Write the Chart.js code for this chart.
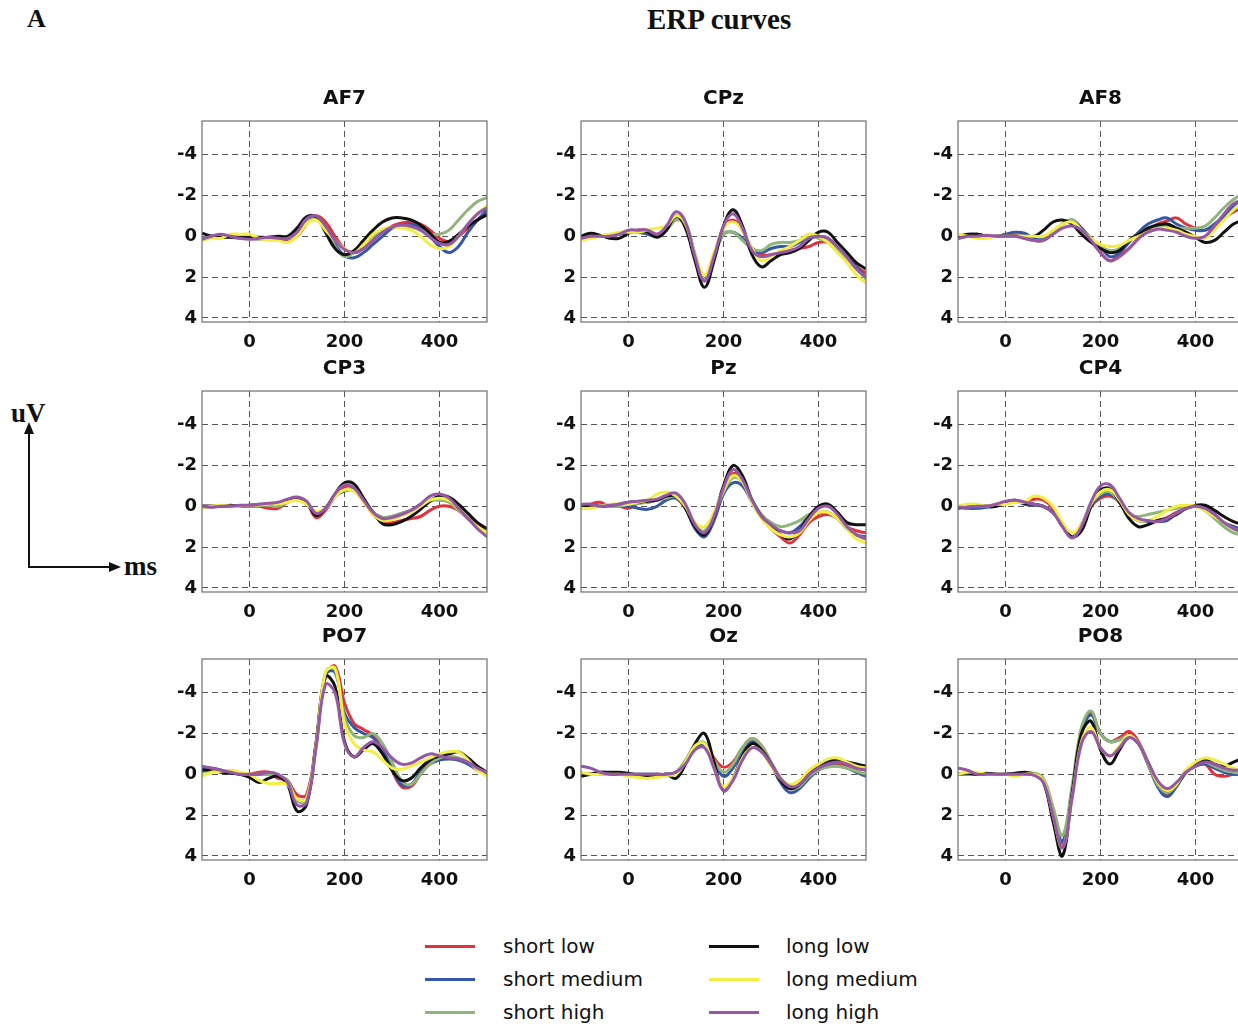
<!DOCTYPE html>
<html>
<head>
<meta charset="utf-8">
<script src="https://cdn.jsdelivr.net/npm/chart.js@4.4.0/dist/chart.umd.min.js"></script>
<style>
  html, body { margin: 0; padding: 0; background: #fff; overflow: hidden; }
  body { width: 1238px; height: 1030px; position: relative; }
  .panel { position: absolute; }
  .serif { position: absolute; font-family: "Liberation Serif", "DejaVu Serif", serif; font-weight: bold; color: #111; white-space: nowrap; }
  .legend { position: absolute; left: 0; top: 0; font-family: "DejaVu Sans", "Liberation Sans", sans-serif; font-size: 20px; color: #111; }
  .legend .swatch { position: absolute; width: 50px; height: 3px; }
  .legend .label { position: absolute; transform: translateY(-50%); white-space: nowrap; }
</style>
</head>
<body>

<div class="serif" style="left:27px; top:4px; font-size:26px;">A</div>
<div class="serif" style="left:647px; top:3px; font-size:29px;">ERP curves</div>

<svg style="position:absolute; left:0; top:0;" width="170" height="620">
  <line x1="29" y1="568" x2="29" y2="432" stroke="#111" stroke-width="2"/>
  <polygon points="29,422 24,434 34,434" fill="#111"/>
  <line x1="28" y1="567" x2="110" y2="567" stroke="#111" stroke-width="2"/>
  <polygon points="121,567 109,562 109,572" fill="#111"/>
</svg>
<div class="serif" style="left:11px; top:398px; font-size:27px;">uV</div>
<div class="serif" style="left:124px; top:551px; font-size:27px;">ms</div>

<div id="panels"></div>
<div class="legend" id="legend"></div>

<script>
// time axis (ms), shared by every panel
const TIMES = [-100, -80, -60, -40, -20, 0, 20, 40, 60, 80, 100, 120, 140, 160, 180, 200,
               220, 240, 260, 280, 300, 320, 340, 360, 380, 400, 420, 440, 460, 480, 500];
const X_TICKS = [0, 200, 400];
const Y_TICKS = [-4, -2, 0, 2, 4];

const SERIES = ['short low', 'short medium', 'short high', 'long low', 'long medium', 'long high'];
const COLORS = ['#e0333d', '#3457a8', '#90b57a', '#111111', '#f2ee44', '#9658a6'];

// each panel: rows in SERIES order (uV, negative up)
const AF7 = [
  [0.1,0,0,0,0.05,0.1,0.1,0.1,0.15,0.2,0,-0.6,-1.0,-0.7,0,0.6,0.8,0.6,0.2,-0.2,-0.5,-0.65,-0.7,-0.6,-0.3,0.1,0.25,0,-0.4,-0.8,-1.2],
  [0.1,0,0,0,0.1,0.1,0.1,0.1,0.1,0.1,-0.2,-0.8,-0.9,-0.4,0.4,0.95,1.05,0.8,0.4,0,-0.4,-0.55,-0.6,-0.4,0,0.5,0.8,0.5,-0.2,-0.8,-1.3],
  [0.1,0.05,0,0.05,0.1,0.1,0.15,0.1,0.1,0.1,-0.1,-0.7,-0.85,-0.4,0.5,1.0,0.8,0.4,0,-0.3,-0.45,-0.5,-0.45,-0.3,-0.1,-0.1,-0.3,-0.8,-1.3,-1.7,-1.9],
  [-0.15,0,0.05,0.05,0.05,0.05,0.05,0.05,0,0,-0.4,-0.95,-0.95,-0.2,0.6,0.9,0.7,0.2,-0.3,-0.7,-0.9,-0.9,-0.8,-0.55,-0.15,0.3,0.25,-0.1,-0.5,-0.8,-1.05],
  [0.2,0.1,0.1,-0.1,-0.1,-0.1,0.1,0.2,0.2,0.3,0,-0.6,-0.8,-0.3,0.2,0.6,0.8,0.4,-0.1,-0.35,-0.45,-0.4,-0.3,0,0.4,0.6,0.5,0,-0.6,-1.1,-1.5],
  [0.15,0,-0.1,0,0.1,0.15,0.1,0.05,0.1,0.1,-0.2,-0.85,-1.0,-0.5,0.2,0.65,0.8,0.6,0.2,-0.2,-0.45,-0.55,-0.5,-0.3,0.05,0.35,0.4,0,-0.6,-1.1,-1.4]
];
const CPZ = [
  [0.1,0,0,0,-0.1,-0.2,-0.3,-0.3,-0.1,-0.4,-0.9,-0.6,1.0,2.1,1.0,-0.4,-0.8,-0.3,0.6,0.9,0.9,0.8,0.7,0.6,0.5,0.3,0.3,0.6,1.0,1.5,1.8],
  [0.1,0,0,0,-0.1,-0.2,-0.2,-0.1,0,-0.4,-0.85,-0.6,0.9,2.1,1.0,-0.1,-0.2,0.1,0.6,0.8,0.6,0.5,0.5,0.3,0.1,0,0.1,0.5,1.0,1.5,2.0],
  [0.1,0,0,0,-0.1,-0.25,-0.3,-0.2,0,-0.3,-0.8,-0.6,0.9,2.1,1.0,-0.1,-0.2,0.2,0.6,0.7,0.4,0.3,0.3,0.2,0,0.1,0.3,0.7,1.1,1.6,2.1],
  [0,-0.15,-0.05,0.1,0.1,-0.15,-0.3,-0.2,0.05,-0.3,-1.0,-0.4,1.2,2.5,1.2,-0.5,-1.3,-0.5,0.9,1.5,1.2,0.9,0.8,0.6,0.2,-0.2,-0.2,0.3,0.8,1.3,1.6],
  [0.2,0.1,0,-0.1,-0.2,-0.2,-0.2,-0.3,-0.4,-0.5,-1.0,-0.6,0.9,1.9,0.8,-0.4,-0.7,-0.3,0.6,1.2,1.0,0.7,0.5,0.2,-0.1,0,0.3,0.8,1.3,1.9,2.3],
  [0.1,0,0,0,-0.1,-0.3,-0.3,-0.3,-0.1,-0.5,-1.2,-0.7,1.0,2.2,1.0,-0.5,-1.1,-0.4,0.7,1.0,0.9,0.8,0.7,0.5,0.1,0,0.1,0.5,1.0,1.6,2.0]
];
const AF8 = [
  [0,0,-0.1,0,0,-0.05,-0.05,0.1,0.2,0.2,-0.2,-0.6,-0.75,-0.4,0.2,0.8,1.2,0.9,0.6,0.1,-0.3,-0.6,-0.75,-0.9,-0.6,-0.4,-0.3,-0.5,-0.9,-1.2,-1.4],
  [0.1,0,-0.1,0,0,-0.1,-0.2,-0.15,0.1,0.1,-0.2,-0.6,-0.8,-0.4,0.1,0.5,1.0,0.8,0.3,-0.2,-0.6,-0.8,-0.9,-0.6,-0.4,-0.3,-0.3,-0.6,-1.0,-1.5,-1.9],
  [0.1,0,0,0,0,0,0,0,0.2,0.2,-0.2,-0.6,-0.8,-0.3,0.1,0.5,0.7,0.6,0.2,-0.1,-0.4,-0.5,-0.5,-0.4,-0.4,-0.4,-0.5,-0.9,-1.4,-1.8,-2.1],
  [0,-0.1,-0.1,0,0,0,0,0,0,-0.3,-0.7,-0.8,-0.6,-0.1,0.3,0.6,0.8,0.7,0.2,-0.1,-0.4,-0.55,-0.6,-0.4,-0.2,0.05,0.3,0.2,-0.2,-0.6,-0.8],
  [-0.1,0,0.1,0.1,0,0,0,0,0,0,-0.3,-0.6,-0.7,-0.3,0.1,0.4,0.5,0.45,0.2,0,-0.2,-0.35,-0.4,-0.3,-0.1,0,0.1,-0.3,-0.8,-1.3,-1.6],
  [0.1,0,0,-0.05,0,0,0,0.1,0.2,0.2,-0.1,-0.4,-0.5,-0.3,0.2,0.8,1.2,1.0,0.6,0.1,-0.2,-0.35,-0.3,-0.2,0,0.1,0,-0.5,-1.1,-1.6,-1.8]
];
const CP3 = [
  [0,0,0,0,0,0,0,0.1,0.1,-0.2,-0.4,-0.2,0.55,0.2,-0.5,-0.95,-0.9,-0.3,0.4,0.75,0.8,0.7,0.6,0.5,0.2,0,0,0.2,0.6,0.9,1.1],
  [0,0,0,0,0,-0.05,-0.1,-0.1,-0.1,-0.25,-0.35,-0.1,0.3,0.1,-0.5,-0.75,-0.8,-0.3,0.3,0.55,0.5,0.35,0.2,-0.1,-0.3,-0.4,-0.3,0.1,0.6,1.0,1.3],
  [0,0,0,0,0,-0.05,-0.05,-0.05,0,-0.2,-0.35,-0.15,0.3,0.1,-0.5,-0.8,-0.75,-0.3,0.3,0.55,0.5,0.35,0.2,0,-0.25,-0.3,-0.2,0.2,0.6,1.0,1.3],
  [0,0,0,-0.05,0,-0.05,-0.05,-0.1,-0.1,-0.3,-0.4,-0.2,0.45,0.1,-0.6,-1.15,-1.1,-0.4,0.3,0.85,0.9,0.75,0.5,0.15,-0.25,-0.5,-0.45,-0.1,0.35,0.8,1.1],
  [0.1,0,-0.05,0,0,-0.05,-0.05,-0.1,-0.1,-0.2,-0.3,-0.1,0.25,0.1,-0.5,-0.8,-0.75,-0.2,0.4,0.7,0.65,0.45,0.3,0,-0.3,-0.4,-0.3,0.1,0.6,1.0,1.3],
  [0,0.05,0,0,-0.05,-0.05,-0.1,-0.15,-0.2,-0.35,-0.45,-0.25,0.35,0.1,-0.6,-1.05,-0.9,-0.3,0.3,0.6,0.55,0.4,0.2,-0.1,-0.5,-0.6,-0.4,0.1,0.6,1.1,1.5]
];
const PZ = [
  [0.1,-0.1,-0.2,0,0,0.1,-0.15,-0.2,-0.3,-0.4,-0.4,0.1,1.0,1.35,0.5,-0.8,-1.6,-1.3,-0.3,0.5,1.1,1.5,1.8,1.4,0.8,0.5,0.4,0.6,1.0,1.2,1.3],
  [0,0,0,0,0,0,0.1,0.15,0,-0.3,-0.4,0.1,1.1,1.5,0.7,-0.6,-1.15,-1.0,-0.2,0.5,1.0,1.2,1.3,1.0,0.5,0.3,0.3,0.6,1.1,1.4,1.5],
  [0,0,0,0,0,-0.1,-0.15,-0.2,-0.3,-0.4,-0.5,0,0.9,1.2,0.4,-0.7,-1.4,-1.2,-0.3,0.4,0.8,1.0,0.9,0.7,0.4,0.3,0.3,0.6,1.0,1.4,1.6],
  [0,-0.05,0,-0.05,-0.1,-0.2,-0.2,-0.25,-0.3,-0.5,-0.5,0.1,1.0,1.4,0.5,-1.0,-2.0,-1.5,-0.3,0.5,1.0,1.4,1.6,1.2,0.5,0,-0.1,0.3,0.8,0.9,0.9],
  [0.1,0.1,0,-0.1,-0.1,-0.1,-0.2,-0.3,-0.6,-0.7,-0.5,0,0.8,1.0,0.3,-0.8,-1.5,-1.2,-0.2,0.6,1.1,1.4,1.5,1.3,0.7,0.3,0.3,0.6,1.1,1.6,1.8],
  [-0.1,-0.1,0,-0.05,-0.1,-0.2,-0.25,-0.3,-0.35,-0.55,-0.65,-0.1,0.9,1.3,0.5,-0.9,-1.8,-1.3,-0.3,0.5,0.9,1.2,1.3,1.2,0.6,0.1,0,0.4,1.0,1.4,1.6]
];
const CP4 = [
  [0.05,0,0,0,-0.1,-0.2,-0.25,-0.2,-0.35,-0.3,0.1,0.9,1.5,0.9,0,-0.4,-0.5,-0.2,0.4,0.7,0.75,0.7,0.55,0.3,0.1,0,0.05,0.4,0.8,1.0,1.2],
  [0.05,0.1,0.1,0.05,0,-0.2,-0.25,-0.1,-0.05,0,0.3,1.0,1.5,0.9,0,-0.5,-0.6,-0.2,0.4,0.7,0.75,0.75,0.7,0.35,0.1,0,0.1,0.4,0.8,1.0,1.2],
  [0,0,0,0,-0.05,-0.2,-0.3,-0.2,-0.1,0,0.3,1.0,1.5,0.9,-0.1,-0.6,-0.7,-0.2,0.4,0.5,0.4,0.3,0.2,0.1,0,0,0.2,0.6,1.0,1.3,1.4],
  [0.1,0,-0.05,0,0,-0.2,-0.3,-0.15,-0.1,0,0.3,0.9,1.5,1.2,0,-0.8,-0.85,-0.2,0.6,1.0,0.9,0.7,0.6,0.4,0.1,-0.05,-0.05,0.2,0.5,0.75,0.9],
  [0,-0.1,-0.1,0,-0.1,-0.1,-0.2,-0.2,-0.5,-0.4,0,0.8,1.3,0.9,-0.1,-0.7,-0.8,-0.3,0.4,0.7,0.7,0.5,0.2,0,-0.05,0,0.2,0.5,0.8,1.1,1.3],
  [0.05,0.05,0,0,-0.1,-0.25,-0.3,-0.2,-0.1,0,0.3,1.0,1.55,1.0,-0.2,-1.0,-1.05,-0.4,0.3,0.6,0.7,0.75,0.6,0.35,0.1,0,0.1,0.4,0.8,1.1,1.3]
];
const PO7 = [
  [-0.2,-0.3,-0.2,-0.1,0,0,-0.1,-0.1,0.2,0.3,1.0,1.0,-1.5,-4.8,-5.3,-3.5,-2.5,-2.2,-1.9,-1.2,-0.2,0.6,0.6,0,-0.6,-0.8,-0.8,-0.7,-0.6,-0.3,-0.1],
  [-0.3,-0.3,-0.2,-0.1,0,0.05,0,0,0.1,0.3,1.2,1.2,-1.4,-4.9,-5.0,-3.0,-2.3,-2.0,-1.8,-1.2,-0.3,0.5,0.5,-0.1,-0.5,-0.7,-0.75,-0.7,-0.5,-0.2,0],
  [-0.1,-0.2,-0.2,-0.1,0,0,0,0,0.1,0.3,1.3,1.3,-1.4,-5.0,-5.2,-2.8,-1.9,-1.8,-2.0,-1.5,-0.6,0.3,0.5,0,-0.5,-0.8,-0.9,-0.8,-0.6,-0.3,-0.1],
  [-0.2,-0.2,-0.1,-0.05,0,0.15,0.4,0.2,0.1,0.5,1.8,1.5,-1.5,-4.8,-4.3,-1.6,-0.85,-1.2,-1.5,-1.0,-0.2,0.3,0.2,-0.3,-0.7,-0.9,-1.0,-1.1,-0.8,-0.4,-0.1],
  [0.1,-0.1,-0.15,-0.2,-0.1,0,0.3,0.45,0.45,0.5,1.2,1.2,-1.4,-5.0,-5.2,-2.5,-1.5,-1.2,-1.1,-0.7,-0.3,-0.25,-0.4,-0.6,-0.8,-1.0,-1.1,-1.1,-0.7,-0.2,0.1],
  [-0.4,-0.3,-0.2,-0.1,0,0,0,-0.1,0,0.4,1.5,1.4,-1.3,-4.4,-4.0,-1.5,-0.85,-1.3,-1.6,-1.3,-0.8,-0.5,-0.55,-0.8,-1.0,-0.9,-0.8,-0.75,-0.6,-0.3,-0.1]
];
const OZ = [
  [0,0,0,0,0,0,0.05,0.05,0,0,-0.1,-0.6,-1.4,-1.5,-0.8,-0.35,-0.6,-1.3,-1.75,-1.4,-0.6,0.2,0.7,0.5,0,-0.3,-0.45,-0.5,-0.4,-0.3,-0.2],
  [0,0,0,0,0,0,0,0,0,0,-0.1,-0.6,-1.3,-1.4,-0.6,0.1,-0.3,-1.1,-1.6,-1.3,-0.5,0.4,0.9,0.7,0.2,-0.2,-0.4,-0.4,-0.3,-0.1,0.1],
  [0,0,0,0,0,0,0,0,0,0,-0.1,-0.7,-1.4,-1.55,-0.7,-0.1,-0.5,-1.3,-1.75,-1.4,-0.6,0.2,0.7,0.6,0.1,-0.2,-0.35,-0.4,-0.3,-0.15,0],
  [0.1,0,-0.1,-0.1,-0.1,-0.05,0.05,0.1,0.05,0,0.2,-0.5,-1.5,-2.0,-0.6,0.8,0.2,-0.9,-1.5,-1.2,-0.5,0.3,0.7,0.5,0,-0.4,-0.65,-0.7,-0.6,-0.5,-0.4],
  [-0.1,0,0,0,0,0.1,0.15,0.2,0.15,0.05,0,-0.6,-1.4,-1.5,-0.3,0.6,0.2,-0.8,-1.3,-1.1,-0.4,0.2,0.5,0.3,-0.2,-0.5,-0.75,-0.8,-0.6,-0.4,-0.3],
  [-0.4,-0.3,-0.1,0,0,0,0,0,0,0,-0.1,-0.5,-1.2,-1.3,-0.3,0.8,0.3,-0.7,-1.3,-1.1,-0.5,0.2,0.6,0.5,0,-0.3,-0.5,-0.6,-0.5,-0.3,-0.2]
];
const PO8 = [
  [0,0,0,0,0,0,0,0,0,0.3,2.0,3.5,1.0,-2.2,-3.0,-2.0,-1.6,-1.8,-2.1,-1.6,-0.5,0.5,1.0,0.5,-0.1,-0.4,-0.5,0,0.1,0,0],
  [0,0,0,0,0,0,0,0,0,0.3,1.8,3.3,0.8,-2.0,-2.9,-2.0,-1.6,-1.7,-1.9,-1.5,-0.5,0.6,1.1,0.6,-0.1,-0.4,-0.5,-0.3,-0.1,0,0],
  [0,0,0,0,0,0,0,0,-0.05,0.2,1.6,3.0,0.6,-2.3,-3.1,-2.0,-1.6,-1.7,-1.9,-1.5,-0.5,0.5,0.9,0.5,-0.2,-0.5,-0.6,-0.4,-0.2,-0.1,0],
  [0,-0.05,0,-0.05,0,0,-0.05,-0.1,0,0.4,2.3,4.0,1.0,-2.0,-2.6,-1.2,-0.5,-1.2,-1.8,-1.5,-0.6,0.4,0.8,0.5,-0.1,-0.5,-0.7,-0.5,-0.4,-0.6,-0.8],
  [0,-0.1,-0.1,0,0,0,0.1,0,0,0.3,2.0,3.6,1.2,-1.6,-2.3,-1.3,-0.9,-1.4,-1.9,-1.5,-0.6,0.4,0.8,0.5,-0.2,-0.6,-0.8,-0.7,-0.5,-0.3,-0.2],
  [-0.3,-0.2,0,0,0,0,0,0,0.05,0.4,2.0,3.6,1.2,-1.5,-2.1,-1.3,-0.9,-1.3,-1.8,-1.5,-0.6,0.3,0.7,0.4,-0.1,-0.4,-0.6,-0.5,-0.3,-0.2,-0.2]
];

const PANEL_NAMES = ['AF7', 'CPz', 'AF8', 'CP3', 'Pz', 'CP4', 'PO7', 'Oz', 'PO8'];
const PANEL_DATA = [AF7, CPZ, AF8, CP3, PZ, CP4, PO7, OZ, PO8];

// layout of the grid
const COL_LEFT = [202, 580.5, 958];
const ROW_TOP = [121, 390.5, 659];
const PLOT_W = 285, PLOT_H = 201;
const Y_AXIS_W = 48, X_AXIS_H = 34, TITLE_H = 34;

const SANS = '"DejaVu Sans", "Liberation Sans", sans-serif';
const tickFont = { family: SANS, size: 18, weight: 'bold' };

// full box around plot area
const frame = {
    id: 'frame',
    afterDatasetsDraw(chart) {
        const { ctx, chartArea: a } = chart;
        ctx.save();
        ctx.strokeStyle = '#707070';
        ctx.lineWidth = 1.2;
        ctx.strokeRect(a.left, a.top, a.right - a.left, a.bottom - a.top);
        ctx.restore();
    }
};

function makePanel(index) {
    const col = index % 3, row = Math.floor(index / 3);
    const div = document.createElement('div');
    div.className = 'panel';
    div.style.left = (COL_LEFT[col] - Y_AXIS_W) + 'px';
    div.style.top = (ROW_TOP[row] - TITLE_H) + 'px';
    div.style.width = (2 * Y_AXIS_W + PLOT_W) + 'px';
    div.style.height = (TITLE_H + PLOT_H + X_AXIS_H) + 'px';
    const canvas = document.createElement('canvas');
    div.appendChild(canvas);
    document.getElementById('panels').appendChild(div);

    const values = PANEL_DATA[index];
    const datasets = SERIES.map((label, i) => ({
        label: label,
        data: TIMES.map((t, k) => ({ x: t, y: values[i][k] })),
        borderColor: COLORS[i],
        backgroundColor: COLORS[i],
        borderWidth: 3,
        pointRadius: 0,
        tension: 0.4,
        fill: false,
        order: 6 - i
    }));

    return new Chart(canvas, {
        type: 'line',
        data: { datasets },
        plugins: [frame],
        options: {
            responsive: true,
            maintainAspectRatio: false,
            animation: false,
            layout: { padding: 0 },
            plugins: {
                legend: { display: false },
                tooltip: { enabled: false },
                title: {
                    display: true,
                    text: PANEL_NAMES[index],
                    color: '#111',
                    font: { family: SANS, size: 20, weight: 'bold' },
                    padding: { top: 0, bottom: 10 }
                }
            },
            scales: {
                x: {
                    type: 'linear',
                    min: -100,
                    max: 500,
                    afterBuildTicks: s => { s.ticks = X_TICKS.map(v => ({ value: v })); },
                    afterFit: s => { s.height = X_AXIS_H; },
                    grid: { color: '#555', lineWidth: 1, drawTicks: false },
                    border: { display: false, dash: [6, 4] },
                    ticks: { font: tickFont, color: '#111', padding: 10, maxRotation: 0 }
                },
                y: {
                    min: -5.65,
                    max: 4.2,
                    reverse: true,
                    afterBuildTicks: s => { s.ticks = Y_TICKS.map(v => ({ value: v })); },
                    afterFit: s => { s.width = Y_AXIS_W; },
                    grid: { color: '#555', lineWidth: 1, drawTicks: false },
                    border: { display: false, dash: [6, 4] },
                    ticks: { font: tickFont, color: '#111', padding: 5 }
                },
                // empty right axis, keeps the title centred over the plot
                yRight: {
                    position: 'right',
                    min: -5.65,
                    max: 4.2,
                    afterFit: s => { s.width = Y_AXIS_W; },
                    grid: { display: false },
                    border: { display: false },
                    ticks: { display: false }
                }
            }
        }
    });
}

PANEL_NAMES.forEach((name, i) => makePanel(i));

// legend, two columns of three
const LEGEND_COLS = [{ line: 425, text: 503 }, { line: 709, text: 786 }];
const LEGEND_ROWS = [946, 979, 1012];
const legend = document.getElementById('legend');
SERIES.forEach((label, i) => {
    const c = LEGEND_COLS[Math.floor(i / 3)];
    const y = LEGEND_ROWS[i % 3];
    const sw = document.createElement('div');
    sw.className = 'swatch';
    sw.style.left = c.line + 'px';
    sw.style.top = (y - 1.5) + 'px';
    sw.style.background = COLORS[i];
    legend.appendChild(sw);
    const tx = document.createElement('div');
    tx.className = 'label';
    tx.style.left = c.text + 'px';
    tx.style.top = y + 'px';
    tx.textContent = label;
    legend.appendChild(tx);
});
</script>
</body>
</html>
